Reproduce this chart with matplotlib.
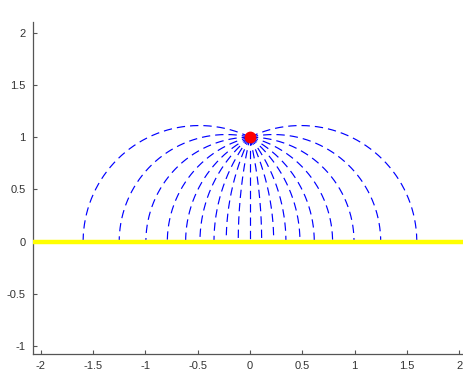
import numpy as np
import matplotlib
matplotlib.use("Agg")
import matplotlib.pyplot as plt

# ---- data ----
charge_pos = (0.0, 1.0)
# x positions where the field lines meet the grounded plane (y = 0)
landing_x = [-1.595, -1.25, -0.995, -0.79, -0.615, -0.478, -0.344, -0.227, -0.112,
             0.0, 0.112, 0.227, 0.344, 0.478, 0.615, 0.79, 0.995, 1.25, 1.595]
plane_y = 0.0
xticks = [-2, -1.5, -1, -0.5, 0, 0.5, 1, 1.5, 2]
xticklabels = ["-2", "-1.5", "-1", "-0.5", "0", "0.5", "1", "1.5", "2"]
yticks = [-1, -0.5, 0, 0.5, 1, 1.5, 2]
yticklabels = ["-1", "-0.5", "0", "0.5", "1", "1.5", "2"]
xlim = (-2.077, 2.077)
ylim = (-1.076, 2.105)

plt.rcParams['lines.scale_dashes'] = False
W, H = 464, 374
fig = plt.figure(figsize=(W / 100, H / 100), dpi=100)
# axes placement in pixels
left_px, bottom_px = 32.7, 354.3
ppu = 104.6
ax_w = (xlim[1] - xlim[0]) * ppu
ax_h = (ylim[1] - ylim[0]) * ppu
ax = fig.add_axes([left_px / W, (H - bottom_px) / H, ax_w / W, ax_h / H])

qx, qy = charge_pos
for L in landing_x:
    if abs(L) < 1e-9:
        xs = np.array([qx, qx])
        ys = np.array([qy, plane_y])
    else:
        c = (L * L - qy * qy) / (2 * L)
        R = np.hypot(qx - c, qy)
        a0 = np.arctan2(qy, qx - c)
        a1 = np.arctan2(0.0, L - c)
        t = np.linspace(a0, a1, 400)
        xs = c + R * np.cos(t)
        ys = R * np.sin(t)
    ax.plot(xs, ys, color=(0, 0, 1), lw=0.85, dashes=(6.0, 3.6),
            solid_capstyle='butt', dash_capstyle='butt', zorder=2)

ax.axhline(plane_y, color=(1, 1, 0), lw=3.2, zorder=3)
ax.plot([qx], [qy], 'o', color=(1, 0, 0), markersize=7.5,
        markeredgecolor=(1, 0, 0), zorder=4)

ax.set_xlim(*xlim)
ax.set_ylim(*ylim)
for s in ['top', 'right']:
    ax.spines[s].set_visible(False)
for s in ['left', 'bottom']:
    ax.spines[s].set_color('#555555')
    ax.spines[s].set_linewidth(0.9)
ax.set_xticks(xticks)
ax.set_xticklabels(xticklabels)
ax.set_yticks(yticks)
ax.set_yticklabels(yticklabels)
ax.tick_params(direction='in', length=3, width=0.8, color='#555555',
               labelsize=8, labelcolor='#333333', pad=5)
for lab in ax.get_xticklabels() + ax.get_yticklabels():
    lab.set_family('Liberation Sans')

fig.savefig('out.png', dpi=100)
